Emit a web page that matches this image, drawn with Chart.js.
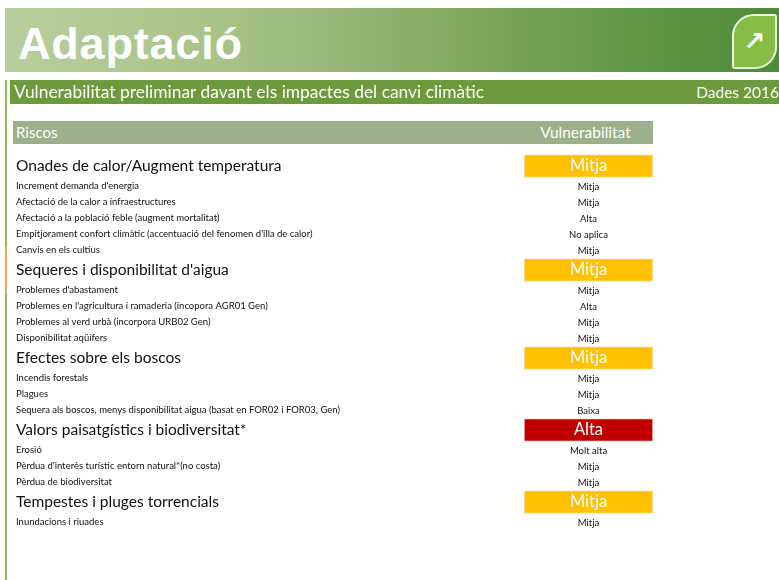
<!DOCTYPE html>
<html>
<head>
<meta charset="utf-8">
<script src="https://cdn.jsdelivr.net/npm/chart.js@4.4.1/dist/chart.umd.min.js"></script>
<style>
    body { margin: 0; background: #fff; }
    #page { position: relative; width: 779px; height: 580px; overflow: hidden; font-family: Lato, 'Open Sans', sans-serif; }
    #banner {
        position: absolute; left: 5px; top: 8px; width: 774px; height: 64px; overflow: hidden;
        background: linear-gradient(90deg, #b9ce9d 0%, #a6c286 30%, #8fb06e 50%, #6e9d50 72%, #4d8b38 100%);
    }
    #banner h1 {
        position: absolute; left: 13px; top: 10px; margin: 0;
        font: bold 45px 'Liberation Sans', Arial, sans-serif; color: #fff; letter-spacing: 0.8px;
    }
    #logo {
        position: absolute; left: 727px; top: 6px; width: 41px; height: 51px;
        background: #86bd45; border: 2px solid #eef6e2;
        border-radius: 22px 3px 22px 3px;
        color: #fff; font: bold 26px 'DejaVu Sans', sans-serif; text-align: center; line-height: 51px;
    }
    #leftline { position: absolute; left: 5px; top: 80px; width: 2px; height: 500px; background: #8dbb5f; }
    #leftline2 { position: absolute; left: 5px; top: 246px; width: 2px; height: 48px; background: #f4a25e; }
    #subtitle {
        position: absolute; left: 10px; top: 80px; width: 769px; height: 24px; background: #6e9a3e;
        color: #fff; line-height: 24px;
    }
    #subtitle .l { position: absolute; left: 4px; font-size: 17.4px; }
    #subtitle .r { position: absolute; right: 0; font-size: 15.5px; }
    #head {
        position: absolute; left: 13px; top: 121px; width: 640px; height: 23px; background: #9cb08b;
        color: #fff; line-height: 23px;
    }
    #head .l { position: absolute; left: 3px; font-size: 15px; }
    #head .r { position: absolute; left: 508px; width: 129px; text-align: center; font-size: 15.5px; }
    canvas { position: absolute; left: 0; top: 0; }
</style>
</head>
<body>
<div id="page">
    <canvas id="chart" width="779" height="580"></canvas>
    <div id="banner"><h1>Adaptació</h1><div id="logo">↗</div></div>
    <div id="leftline"></div><div id="leftline2"></div>
    <div id="subtitle"><span class="l">Vulnerabilitat preliminar davant els impactes del canvi climàtic</span><span class="r">Dades 2016</span></div>
    <div id="head"><span class="l">Riscos</span><span class="r">Vulnerabilitat</span></div>
</div>
<script>
// Data
const groups = [
    'Onades de calor/Augment temperatura',
    "Sequeres i disponibilitat d'aigua",
    'Efectes sobre els boscos',
    'Valors paisatgístics i biodiversitat*',
    'Tempestes i pluges torrencials'
];
const groupLevels = ['Mitja', 'Mitja', 'Mitja', 'Alta', 'Mitja'];
const risks = [
    ["Increment demanda d'energia", 'Afectació de la calor a infraestructures', 'Afectació a la població feble (augment mortalitat)',
     "Empitjorament confort climàtic (accentuació del fenomen d'illa de calor)", 'Canvis en els cultius'],
    ["Problemes d'abastament", "Problemes en l'agricultura i ramaderia (incopora AGR01 Gen)", 'Problemes al verd urbà (incorpora URB02 Gen)', 'Disponibilitat aqüífers'],
    ['Incendis forestals', 'Plagues', 'Sequera als boscos, menys disponibilitat aigua (basat en FOR02 i FOR03, Gen)'],
    ['Erosió', "Pèrdua d'interès turístic entorn natural*(no costa)", 'Pèrdua de biodiversitat'],
    ['Inundacions i riuades']
];
const riskLevels = [
    ['Mitja', 'Mitja', 'Alta', 'No aplica', 'Mitja'],
    ['Mitja', 'Alta', 'Mitja', 'Mitja'],
    ['Mitja', 'Mitja', 'Baixa'],
    ['Molt alta', 'Mitja', 'Mitja'],
    ['Mitja']
];

const levelColors = { 'Mitja': '#ffc000', 'Alta': '#c00000' };

// Flatten into rows; group rows are 1.5 units tall, risk rows 1 unit
const rows = [];
let cursor = 0;
groups.forEach((g, gi) => {
    rows.push({ label: g, level: groupLevels[gi], group: true, pos: cursor + 0.75 });
    cursor += 1.5;
    risks[gi].forEach((r, ri) => {
        rows.push({ label: r, level: riskLevels[gi][ri], group: false, pos: cursor + 0.5 });
        cursor += 1;
    });
});
const total = cursor;
const groupRows = rows.filter(r => r.group);

const valueText = {
    id: 'valueText',
    afterDatasetsDraw(chart) {
        const { ctx, chartArea, scales: { y } } = chart;
        const cx = (chartArea.left + chartArea.right) / 2;
        ctx.save();
        ctx.textAlign = 'center';
        ctx.textBaseline = 'middle';
        rows.forEach(r => {
            ctx.fillStyle = r.group ? '#ffffff' : '#111111';
            ctx.font = r.group ? '16.5px Lato' : '9.5px Lato';
            ctx.fillText(r.level, cx, y.getPixelForValue(r.pos) + (r.group ? 0 : 0.5));
        });
        ctx.restore();
    }
};

new Chart(document.getElementById('chart'), {
    type: 'bar',
    data: {
        datasets: [{
            data: groupRows.map(r => ({ x: [0, 1], y: r.pos })),
            backgroundColor: groupRows.map(r => levelColors[r.level]),
            borderColor: '#fbe3cf',
            borderWidth: 1,
            borderSkipped: false,
            barThickness: 23
        }]
    },
    options: {
        indexAxis: 'y',
        responsive: false,
        animation: false,
        layout: { padding: { left: 16, right: 126, top: 154, bottom: 50 } },
        plugins: { legend: { display: false }, tooltip: { enabled: false } },
        scales: {
            x: { type: 'linear', min: 0, max: 1, display: false },
            y: {
                type: 'linear',
                reverse: true,
                offset: false,
                min: 0,
                max: total,
                grid: { display: false, offset: false },
                border: { display: false },
                afterBuildTicks: scale => { scale.ticks = rows.map(r => ({ value: r.pos })); },
                afterFit: scale => {
                    scale.width = 508;
                    scale.paddingTop = 0;
                    scale.paddingBottom = 0;
                },
                ticks: {
                    autoSkip: false,
                    crossAlign: 'far',
                    padding: 0,
                    color: '#111',
                    font: ctx => rows[ctx.index] && rows[ctx.index].group
                        ? { family: 'Lato', size: 15.5 }
                        : { family: 'Lato', size: 9.5 },
                    callback: (value, index) => rows[index].label
                }
            }
        }
    },
    plugins: [valueText]
});
</script>
</body>
</html>
